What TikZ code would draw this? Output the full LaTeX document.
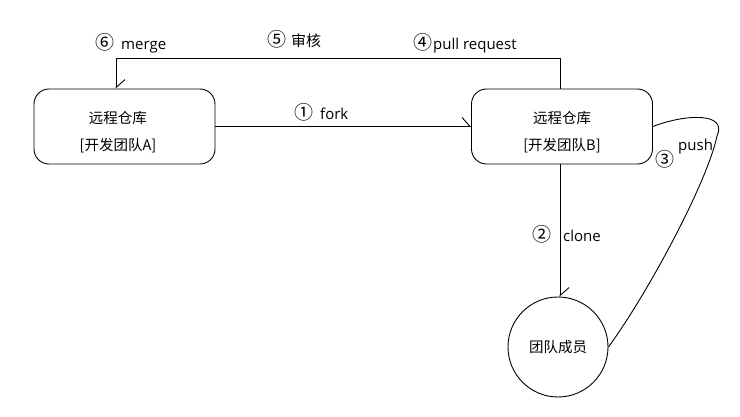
\documentclass[tikz,border=0pt]{standalone}
\usepackage{fontspec}
\setmainfont{Open Sans}
\newfontfamily\cjk{Noto Sans CJK SC}
\usetikzlibrary{arrows.meta}
\newcommand{\cnum}[1]{{\cjk\fontsize{19}{19}\selectfont #1}}
\begin{document}
\begin{tikzpicture}[x=1pt,y=-1pt,
  every node/.style={font=\fontsize{15}{17}\selectfont, inner sep=0pt},
  repo/.style={draw, line width=0.9pt, rounded corners=15pt, minimum width=181pt, minimum height=75pt},
  repotext/.style={align=center, font=\cjk\fontsize{14.5}{27}\selectfont},
  member/.style={draw, line width=0.9pt, circle, minimum size=100pt, font=\cjk\fontsize{14.5}{16}\selectfont},
  conn/.style={line width=0.9pt, -{Straight Barb[harpoon,length=8pt,width=18pt,line width=0.9pt]}},
  lbl/.style={anchor=base west}]
\useasboundingbox (0,0) rectangle (740,417);
\node[repo] (A) at (124.5,126.5) {};
\node[repo] (B) at (562,126.5) {};
\node[repotext] (At) at (118,132) {远程仓库\\{}{[}开发团队A{]}};
\node[repotext] (Bt) at (562,132) {远程仓库\\{}{[}开发团队B{]}};
\node[member] (C) at (558,347) {团队成员};
\coordinate (tr) at (560,58);
\coordinate (tl) at (116,58);
\coordinate (p1) at (717,136);
\draw[conn] (A.east) -- (B.west);
\draw[conn] (B.north -| tr) -- (tr) -- (tl) -- (tl |- A.north);
\draw[conn] (B.south -| tr) -- (C.north -| tr);
\draw[line width=0.9pt] (B.east) .. controls (685,114) and (728,112) .. (p1) .. controls (708,180) and (650,290) .. (C.east);
\node[lbl] (l1) at (294,120) {\cnum{①}\hspace{7pt}fork};
\node[lbl] (l2) at (532,242) {\cnum{②}\hspace{12pt}clone};
\node[lbl] (l3a) at (655,167) {\cnum{③}};
\node[lbl] (l3b) at (678,151) {push};
\node[lbl] (l4) at (413,50) {\cnum{④}\hspace{1pt}pull request};
\node[lbl] (l5) at (267,47) {\cnum{⑤}\hspace{5pt}{\cjk 审核}};
\node[lbl] (l6) at (95,50) {\cnum{⑥}\hspace{7pt}merge};
\end{tikzpicture}
\end{document}
